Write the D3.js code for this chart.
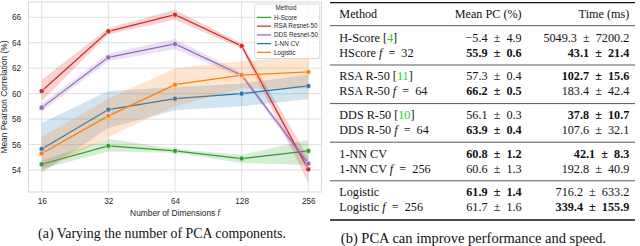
<!DOCTYPE html>
<html>
<head>
<meta charset="utf-8">
<script src="https://cdn.jsdelivr.net/npm/d3@7"></script>
<style>
  body { margin: 0; background: #fff; }
  svg { display: block; }
  .sans { font-family: "Liberation Sans", Arial, sans-serif; fill: #262626; }
  .serif { font-family: "Liberation Serif", "Times New Roman", serif; fill: #111; }
</style>
</head>
<body>
<div id="chart"></div>
<script>
// ---- chart data ----
var dims = [16, 32, 64, 128, 256]
var methods = ["H-Score", "RSA Resnet-50", "DDS Resnet-50", "1-NN CV", "Logistic"]
var colors = ["#2ca02c", "#d62728", "#9467bd", "#1f77b4", "#ff7f0e"]
var hscoreMean = [54.45, 55.9, 55.5, 54.9, 55.5]
var hscoreLo   = [54.1, 55.45, 55.35, 54.55, 54.4]
var hscoreHi   = [54.75, 56.45, 55.65, 55.2, 56.35]
var rsaMean = [60.2, 64.9, 66.2, 63.75, 54.05]
var rsaLo   = [59.4, 64.65, 65.8, 63.55, 53.0]
var rsaHi   = [61.1, 65.15, 66.6, 63.95, 55.0]
var ddsMean = [58.9, 62.85, 63.9, 61.45, 54.5]
var ddsLo   = [58.6, 62.55, 63.5, 61.25, 54.2]
var ddsHi   = [59.2, 63.15, 64.3, 61.65, 54.8]
var nnMean = [55.65, 58.75, 59.6, 60.0, 60.6]
var nnLo   = [53.8, 57.3, 58.7, 59.0, 59.55]
var nnHi   = [57.7, 60.2, 60.5, 60.8, 61.5]
var logMean = [55.3, 58.25, 60.7, 61.45, 61.7]
var logLo   = [53.9, 56.6, 59.0, 60.4, 60.4]
var logHi   = [56.6, 59.6, 62.0, 62.55, 62.95]
var yTicks = [54, 56, 58, 60, 62, 64, 66]

// ---- table data ----
var rowNames = ["H-Score", "HScore", "RSA R-50", "RSA R-50", "DDS R-50", "DDS R-50", "1-NN CV", "1-NN CV", "Logistic", "Logistic"]
var rowCite  = ["4", null, "11", null, "10", null, null, null, null, null]
var rowF     = [null, 32, null, 64, null, 64, null, 256, null, 256]
var pcMean = [-5.4, 55.9, 57.3, 66.2, 56.1, 63.9, 60.8, 60.6, 61.9, 61.7]
var pcStd  = [4.9, 0.6, 0.4, 0.5, 0.3, 0.4, 1.2, 1.3, 1.4, 1.6]
var pcBold = [0, 1, 0, 1, 0, 1, 1, 0, 1, 0]
var timeMean = [5049.3, 43.1, 102.7, 183.4, 37.8, 107.6, 42.1, 192.8, 716.2, 339.4]
var timeStd  = [7200.2, 21.4, 15.6, 42.4, 10.7, 32.1, 8.3, 40.9, 633.2, 155.9]
var timeBold = [0, 1, 1, 0, 1, 0, 1, 0, 0, 1]

var series = [
  {mean: hscoreMean, lo: hscoreLo, hi: hscoreHi},
  {mean: rsaMean, lo: rsaLo, hi: rsaHi},
  {mean: ddsMean, lo: ddsLo, hi: ddsHi},
  {mean: nnMean, lo: nnLo, hi: nnHi},
  {mean: logMean, lo: logLo, hi: logHi}
]

var svg = d3.select("#chart").append("svg")
            .attr("width", 640).attr("height", 246)

// ---------------- left: line chart ----------------
var pLeft = 28.4, pRight = 321.6, pTop = 2, pBottom = 192
var x = d3.scaleLog().base(2).domain([Math.pow(2, 3.8), Math.pow(2, 8.2)]).range([pLeft, pRight])
var y = d3.scaleLinear().domain([52.27, 67.2]).range([pBottom, pTop])

var plot = svg.append("g")

// grid
plot.append("g").selectAll("line").data(yTicks).enter().append("line")
    .attr("x1", pLeft).attr("x2", pRight)
    .attr("y1", function(d) { return y(d) }).attr("y2", function(d) { return y(d) })
    .attr("stroke", "#dcdcdc").attr("stroke-width", 0.9)
plot.append("g").selectAll("line").data(dims).enter().append("line")
    .attr("y1", pTop).attr("y2", pBottom)
    .attr("x1", function(d) { return x(d) }).attr("x2", function(d) { return x(d) })
    .attr("stroke", "#dcdcdc").attr("stroke-width", 0.9)

plot.append("rect")
    .attr("x", pLeft).attr("y", pTop).attr("width", pRight - pLeft).attr("height", pBottom - pTop)
    .attr("fill", "none").attr("stroke", "#d4d4d4").attr("stroke-width", 0.9)

// axes
var yAxis = plot.append("g").attr("transform", "translate(" + pLeft + ",0)")
    .call(d3.axisLeft(y).tickValues(yTicks).tickSize(0).tickPadding(7.4))
var xAxis = plot.append("g").attr("transform", "translate(0," + pBottom + ")")
    .call(d3.axisBottom(x).tickValues(dims).tickFormat(d3.format("d")).tickSize(0).tickPadding(6.6))
;[yAxis, xAxis].forEach(function(a) {
  a.select(".domain").remove()
  a.attr("font-family", null).attr("font-size", null)
  a.selectAll("text").attr("class", "sans").style("font-size", "8.2px").attr("fill", null)
})

var xl = plot.append("text").attr("class", "sans")
    .attr("x", (pLeft + pRight) / 2).attr("y", 215.8)
    .attr("text-anchor", "middle").style("font-size", "8.4px")
xl.append("tspan").text("Number of Dimensions ")
xl.append("tspan").style("font-style", "italic").text("f")

plot.append("text").attr("class", "sans")
    .attr("transform", "translate(7," + ((pTop + pBottom) / 2) + ") rotate(-90)")
    .attr("text-anchor", "middle").style("font-size", "8.4px")
    .text("Mean Pearson Correlation (%)")

// bands + lines
var area = d3.area()
  .x(function(d) { return x(d.f) })
  .y0(function(d) { return y(d.lo) })
  .y1(function(d) { return y(d.hi) })
var line = d3.line()
  .x(function(d) { return x(d.f) })
  .y(function(d) { return y(d.m) })

series.forEach(function(s, i) {
  var pts = dims.map(function(f, j) { return {f: f, m: s.mean[j], lo: s.lo[j], hi: s.hi[j]} })
  plot.append("path").datum(pts).attr("d", area)
      .attr("fill", colors[i]).attr("fill-opacity", 0.2)
  plot.append("path").datum(pts).attr("d", line)
      .attr("fill", "none").attr("stroke", colors[i]).attr("stroke-width", 1.25)
  plot.append("g").selectAll("circle").data(pts).enter().append("circle")
      .attr("cx", function(d) { return x(d.f) }).attr("cy", function(d) { return y(d.m) })
      .attr("r", 2.6).attr("fill", colors[i]).attr("stroke", "#fff").attr("stroke-width", 0.6)
})

// legend
var lg = plot.append("g")
lg.append("rect").attr("x", 254.7).attr("y", 4).attr("width", 65).attr("height", 54.5)
  .attr("rx", 1.5).attr("fill", "#fff").attr("fill-opacity", 0.8)
  .attr("stroke", "#cccccc").attr("stroke-width", 0.7)
lg.append("text").attr("class", "sans").attr("x", 286).attr("y", 9.6)
  .attr("text-anchor", "middle").style("font-size", "6.3px").text("Method")
var lgItems = lg.selectAll("g.item").data(methods).enter().append("g").attr("class", "item")
  .attr("transform", function(d, i) { return "translate(0," + (17.4 + i * 8.75) + ")" })
lgItems.append("line").attr("x1", 257).attr("x2", 271)
  .attr("stroke", function(d, i) { return colors[i] }).attr("stroke-width", 1.25)
lgItems.append("text").attr("class", "sans").attr("x", 274).attr("y", 2.2)
  .style("font-size", "6.3px").text(function(d) { return d })

svg.append("text").attr("class", "serif")
  .attr("x", 162).attr("y", 237.5).attr("text-anchor", "middle")
  .style("font-size", "13.9px").text("(a) Varying the number of PCA components.")

// ---------------- right: table ----------------
var tbl = svg.append("g")
var tx0 = 330, tx1 = 635
var colMethod = 339.3, colPC = 521.7, colTime = 629.3
var fmt = d3.format(".1f")
var gap = "\u2002"
function rowY(i) { return 37.7 + Math.floor(i / 2) * 38.6 + (i % 2) * 15 }

var rules = [{y: 2.7, w: 1.3}, {y: 25.7, w: 0.7}, {y: 65, w: 0.7}, {y: 103.6, w: 0.7},
             {y: 142.2, w: 0.7}, {y: 180.8, w: 0.7}, {y: 220, w: 1.3}]
tbl.selectAll("line").data(rules).enter().append("line")
  .attr("x1", tx0).attr("x2", tx1)
  .attr("y1", function(d) { return d.y }).attr("y2", function(d) { return d.y })
  .attr("stroke", "#111").attr("stroke-width", function(d) { return d.w })

var hdr = [["Method", colMethod, "start"], ["Mean PC (%)", colPC, "end"], ["Time (ms)", colTime, "end"]]
tbl.selectAll("text.hdr").data(hdr).enter().append("text").attr("class", "serif hdr")
  .attr("x", function(d) { return d[1] }).attr("y", 18.3)
  .attr("text-anchor", function(d) { return d[2] })
  .style("font-size", "12.2px").text(function(d) { return d[0] })

var rows = tbl.selectAll("g.row").data(rowNames).enter().append("g").attr("class", "row")
  .attr("transform", function(d, i) { return "translate(0," + (rowY(i) + 4) + ")" })

rows.each(function(name, i) {
  var g = d3.select(this)
  var t = g.append("text").attr("class", "serif").attr("x", colMethod).style("font-size", "12.2px")
  t.append("tspan").text(name)
  if (rowCite[i]) {
    t.append("tspan").text(" [")
    t.append("tspan").style("fill", "#22d322").text(rowCite[i])
    t.append("tspan").text("]")
  }
  if (rowF[i]) {
    t.append("tspan").text(" ")
    t.append("tspan").style("font-style", "italic").text("f")
    t.append("tspan").text(gap + "=" + gap + rowF[i])
  }
  g.append("text").attr("class", "serif").attr("x", colPC).attr("text-anchor", "end")
    .style("font-size", "12.2px").style("font-weight", pcBold[i] ? "bold" : "normal")
    .text(fmt(pcMean[i]) + gap + "\u00b1" + gap + fmt(pcStd[i]))
  g.append("text").attr("class", "serif").attr("x", colTime).attr("text-anchor", "end")
    .style("font-size", "12.2px").style("font-weight", timeBold[i] ? "bold" : "normal")
    .text(fmt(timeMean[i]) + gap + "\u00b1" + gap + fmt(timeStd[i]))
})

svg.append("text").attr("class", "serif")
  .attr("x", 473.5).attr("y", 242.5).attr("text-anchor", "middle")
  .style("font-size", "14.5px").text("(b) PCA can improve performance and speed.")
</script>
</body>
</html>
